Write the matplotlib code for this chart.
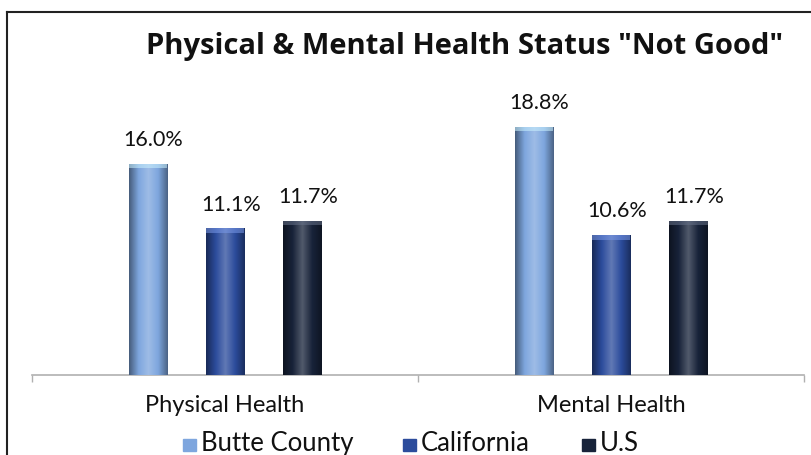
import numpy as np
import matplotlib
matplotlib.use("Agg")
import matplotlib.pyplot as plt
from matplotlib.colors import LinearSegmentedColormap, to_rgb
from matplotlib.patches import Rectangle

categories = ["Physical Health", "Mental Health"]
series_names = ["Butte County", "California", "U.S"]
butte = [16.0, 18.8]
california = [11.1, 10.6]
us = [11.7, 11.7]
title = 'Physical & Mental Health Status "Not Good"'

values = [butte, california, us]
colors = ["#7ea6de", "#2c4c9c", "#18233a"]

W, H = 811, 455
fig = plt.figure(figsize=(W / 100, H / 100), dpi=100)
fig.patch.set_facecolor("white")

# frame of the chart area
fig.add_artist(plt.Line2D([7 / W, 7 / W], [0, 1 - 12 / H], color="#222222", lw=1.5))
fig.add_artist(plt.Line2D([7 / W, 1], [1 - 12 / H, 1 - 12 / H], color="#222222", lw=1.5))

ax = fig.add_axes([32 / W, 80 / H, 772 / W, 264 / H])
ax.set_xlim(-0.5, 1.5)
ax.set_ylim(0, 20)
for s in ["top", "right", "left"]:
    ax.spines[s].set_visible(False)
ax.spines["bottom"].set_color("#b0b0b0")
ax.spines["bottom"].set_linewidth(1.2)
ax.set_yticks([])
ax.set_xticks([-0.5, 0.5, 1.5])
ax.set_xticklabels([])
ax.tick_params(axis="x", length=5, color="#b0b0b0", width=1)

x = np.arange(len(categories))
width = 0.1
offsets = [-0.2, 0.0, 0.2]


def shade(c):
    r = np.array(to_rgb(c))
    dark = r * 0.55
    light = np.clip(r + (1 - r) * 0.25, 0, 1)
    return LinearSegmentedColormap.from_list(
        "s", [dark, r, light, r, dark * 0.9 + r * 0.1], N=256)


grad = np.linspace(0, 1, 256).reshape(1, -1)
label_font = ["Lato", "DejaVu Sans"]
for vals, off, col, name in zip(values, offsets, colors, series_names):
    bars = ax.bar(x + off, vals, width, color=col, label=name, zorder=2)
    for b, v in zip(bars, vals):
        x0, w = b.get_x(), b.get_width()
        im = ax.imshow(grad, cmap=shade(col), aspect="auto",
                       extent=[x0, x0 + w, 0, v], zorder=3)
        im.set_clip_path(b)
        # light cap at the top of each bar
        cap = Rectangle((x0, v - 0.35), w, 0.35,
                        color=np.clip(np.array(to_rgb(col)) + 0.3, 0, 1),
                        alpha=0.55, zorder=4, lw=0)
        ax.add_patch(cap)
        ax.text(x0 + w / 2 + 0.015, v + 1.35, f"{v:.1f}%", ha="center", va="baseline",
                fontsize=15.5, family=label_font, color="#111111")

for xi, cat in zip(x, categories):
    ax.text(xi, -2.8, cat, ha="center", va="baseline", fontsize=17,
            family=label_font, color="#111111")

fig.text(465 / W, 1 - 54 / H, title, ha="center", va="baseline",
         fontsize=21, fontweight="bold", family=["Open Sans", "DejaVu Sans"],
         color="#111111")

# legend along the bottom edge
leg_items = [(183, "Butte County"), (403, "California"), (582, "U.S")]
for (px, name), col in zip(leg_items, colors):
    fig.patches.append(Rectangle((px / W, (H - 451) / H), 13 / W, 12 / H,
                                 transform=fig.transFigure, color=col))
    fig.text((px + 18) / W, (H - 451) / H, name, ha="left", va="baseline",
             fontsize=18.5, family=label_font, color="#111111")

fig.savefig("out.png", dpi=100, facecolor="white")
